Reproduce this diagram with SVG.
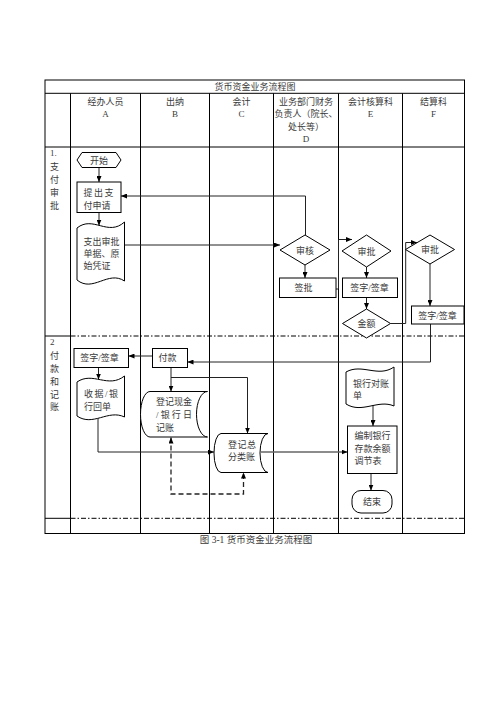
<svg xmlns="http://www.w3.org/2000/svg" width="496" height="702" viewBox="0 0 496 702">
<style>
.t{font-family:'Liberation Serif','Noto Sans CJK SC',serif;font-size:9px;fill:#3a3a3a}
.m{text-anchor:middle}
.g{stroke:#000;stroke-width:1;fill:none}
.dd{stroke:#000;stroke-width:1;fill:none;stroke-dasharray:5 2 1.5 2}
.n{fill:#fff;stroke:#000;stroke-width:1}
.c{fill:none;stroke:#222;stroke-width:1}
.thick{fill:none;stroke:#666;stroke-width:1.6}
.dash{fill:none;stroke:#222;stroke-width:1.3;stroke-dasharray:5 3}
</style>
<defs>
<marker id="a" markerWidth="6" markerHeight="5" refX="6" refY="2.5" orient="auto" markerUnits="userSpaceOnUse"><path d="M0,0 L6,2.5 L0,5 Z" fill="#000"/></marker>
<marker id="a2" markerWidth="6" markerHeight="5" refX="6" refY="2.5" orient="auto-start-reverse" markerUnits="userSpaceOnUse"><path d="M0,0 L6,2.5 L0,5 Z" fill="#000"/></marker>
</defs>
<rect width="496" height="702" fill="#fff"/>

<g id="table">
<rect x="45" y="80" width="419.5" height="453.5" class="g"/>
<line x1="45" y1="93.3" x2="464.5" y2="93.3" class="g"/>
<line x1="45" y1="147" x2="464.5" y2="147" class="g"/>
<line x1="45" y1="336" x2="70.5" y2="336" class="g"/>
<line x1="70.5" y1="336" x2="464.5" y2="336" class="dd"/>
<line x1="45" y1="518.3" x2="70.5" y2="518.3" class="g"/>
<line x1="70.5" y1="518.3" x2="464.5" y2="518.3" class="dd"/>
<line x1="70.5" y1="93.3" x2="70.5" y2="533.5" class="g"/>
<line x1="140.5" y1="93.3" x2="140.5" y2="533.5" class="g"/>
<line x1="209.5" y1="93.3" x2="209.5" y2="533.5" class="g"/>
<line x1="273.5" y1="93.3" x2="273.5" y2="533.5" class="g"/>
<line x1="338.5" y1="93.3" x2="338.5" y2="533.5" class="g"/>
<line x1="402.5" y1="93.3" x2="402.5" y2="533.5" class="g"/>
<text class="t m" x="255" y="90">货币资金业务流程图</text>
<text class="t m" x="105.5" y="104.5">经办人员</text>
<text class="t m" x="105.5" y="116.5">A</text>
<text class="t m" x="175" y="104.5">出纳</text>
<text class="t m" x="175" y="116.5">B</text>
<text class="t m" x="241.5" y="104.5">会计</text>
<text class="t m" x="241.5" y="116.5">C</text>
<text class="t m" x="306" y="104.5">业务部门财务</text>
<text class="t m" x="306" y="117">负责人（院长、</text>
<text class="t m" x="306" y="129.5">处长等）</text>
<text class="t m" x="306" y="142">D</text>
<text class="t m" x="370.5" y="104.5">会计核算科</text>
<text class="t m" x="370.5" y="116.5">E</text>
<text class="t m" x="433.5" y="104.5">结算科</text>
<text class="t m" x="433.5" y="116.5">F</text>
<text class="t" x="50" y="156">1.</text>
<text class="t" x="50" y="169.5">支</text>
<text class="t" x="50" y="182.5">付</text>
<text class="t" x="50" y="196">审</text>
<text class="t" x="50" y="209">批</text>
<text class="t" x="50" y="344.5">2</text>
<text class="t" x="50" y="358.5">付</text>
<text class="t" x="50" y="371.5">款</text>
<text class="t" x="50" y="385">和</text>
<text class="t" x="50" y="397.5">记</text>
<text class="t" x="50" y="410">账</text>
<text class="t m" x="256" y="542.5" style="font-size:9.5px">图 3-1 货币资金业务流程图</text>
</g>

<g id="connectors">
<path class="c" d="M99,167.5 V182" marker-end="url(#a)"/>
<path class="c" d="M99,212.5 V225.5" marker-end="url(#a)"/>
<path class="c" d="M305.5,235 V196 H121" marker-end="url(#a)"/>
<path class="c" d="M124.5,245 H280" marker-end="url(#a)"/>
<path class="c" d="M305,265 V278" marker-end="url(#a)"/>
<path class="c" d="M336,289 H338.5 V239.5 H352" marker-end="url(#a)"/>
<path class="c" d="M366.5,267 V278" marker-end="url(#a)"/>
<path class="c" d="M366.5,297.5 V309" marker-end="url(#a)"/>
<path class="c" d="M390.5,323.5 H405.7 V242.5 H417" marker-end="url(#a)"/>
<path class="c" d="M430,264 V306" marker-end="url(#a)"/>
<path class="c" d="M430.5,324 V362 H187.5" marker-end="url(#a)"/>
<path class="c" d="M152.5,356 H128.5" marker-end="url(#a)"/>
<path class="c" d="M98.5,367.5 V379.5" marker-end="url(#a)"/>
<path class="c" d="M98,418 V452 H214" marker-end="url(#a)"/>
<path class="c" d="M171,367.5 V391.5" marker-end="url(#a)"/>
<path class="c" d="M171,377.5 H247.5 V433.5" marker-end="url(#a)"/>
<path class="thick" d="M261,452 H347.5" marker-end="url(#a)"/>
<path class="c" d="M373,404 V426" marker-end="url(#a)"/>
<path class="c" d="M371,473.5 V490.5" marker-end="url(#a)"/>
<path class="dash" d="M171,437.5 V494 H243.5 V472.5" marker-start="url(#a2)" marker-end="url(#a2)"/>
</g>

<g id="start">
<polygon class="n" points="77,160 82,152.5 116,152.5 121,160 116,167.5 82,167.5"/>
<text class="t m" x="99" y="163.5">开始</text>
</g>
<g id="apply">
<rect class="n" x="77" y="182" width="44" height="30.5"/>
<text class="t" x="83.5" y="196" textLength="30" lengthAdjust="spacing">提出支</text>
<text class="t" x="83.5" y="208.5">付申请</text>
</g>
<g id="voucher">
<path class="n" d="M77,228 C93,215 108,237 124.5,222 L124.5,281 C108,270 93,293 77,280 Z"/>
<text class="t" x="83.5" y="244.5">支出审批</text>
<text class="t" x="83.5" y="256.5">单据、原</text>
<text class="t" x="83.5" y="269">始凭证</text>
</g>
<g id="review">
<polygon class="n" points="305,235 330,250 305,265 280,250"/>
<text class="t m" x="305" y="253.5">审核</text>
</g>
<g id="sign-d">
<rect class="n" x="279.5" y="278" width="56.5" height="19.5"/>
<text class="t m" x="303.5" y="291">签批</text>
</g>
<g id="approve-e">
<polygon class="n" points="366.5,235 391,251 366.5,267 342,251"/>
<text class="t m" x="366.5" y="254.5">审批</text>
</g>
<g id="sign-e">
<rect class="n" x="342.5" y="278" width="55" height="19.5"/>
<text class="t m" x="369.5" y="291">签字/签章</text>
</g>
<g id="amount">
<polygon class="n" points="366.5,309 390.5,323.5 366.5,338 342.5,323.5"/>
<text class="t m" x="366.5" y="327">金额</text>
</g>
<g id="approve-f">
<polygon class="n" points="430,235 454.5,249.5 430,264 405.5,249.5"/>
<text class="t m" x="430" y="253">审批</text>
</g>
<g id="sign-f">
<rect class="n" x="411.5" y="306" width="52.5" height="18"/>
<text class="t m" x="437.5" y="318.5">签字/签章</text>
</g>
<g id="sign-a">
<rect class="n" x="74" y="348.5" width="54.5" height="19"/>
<text class="t m" x="99.5" y="361.3">签字/签章</text>
</g>
<g id="pay">
<rect class="n" x="152.5" y="348.5" width="35" height="19"/>
<text class="t m" x="167.5" y="361.3">付款</text>
</g>
<g id="receipt">
<path class="n" d="M77,382 C93,371 108,389 124.5,376 L124.5,417 C108,409 93,427 77,416 Z"/>
<text class="t" x="84" y="397.4" textLength="34" lengthAdjust="spacing">收据/银</text>
<text class="t" x="84" y="409.5">行回单</text>
</g>
<g id="journal">
<path class="n" d="M150,391.5 H207.5 A11,22.75 0 0 0 207.5,437 H150 A9.5,22.75 0 0 1 150,391.5 Z"/>
<text class="t" x="156" y="405.4">登记现金</text>
<text class="t" x="156" y="418.4" textLength="36" lengthAdjust="spacing">/银行日</text>
<text class="t" x="156" y="431.4">记账</text>
</g>
<g id="ledger">
<path class="n" d="M221,433.5 H268 A8,19.5 0 0 0 268,472.5 H221 A7,19.5 0 0 1 221,433.5 Z"/>
<text class="t" x="228" y="447.7" textLength="28" lengthAdjust="spacing">登记总</text>
<text class="t" x="228" y="460">分类账</text>
</g>
<g id="statement">
<path class="n" d="M346,372 C362,363 378,378 394,367 L394,406 C378,399 362,414 346,404 Z"/>
<text class="t" x="353" y="386.7">银行对账</text>
<text class="t" x="353" y="399.4">单</text>
</g>
<g id="reconcile">
<rect class="n" x="347.5" y="426" width="49.5" height="47.5"/>
<text class="t" x="354.5" y="439.4">编制银行</text>
<text class="t" x="354.5" y="451.7">存款余额</text>
<text class="t" x="354.5" y="464.4">调节表</text>
</g>
<g id="end">
<rect class="n" x="352" y="490.5" width="40" height="22.5" rx="9"/>
<text class="t m" x="372" y="505">结束</text>
</g>
</svg>
